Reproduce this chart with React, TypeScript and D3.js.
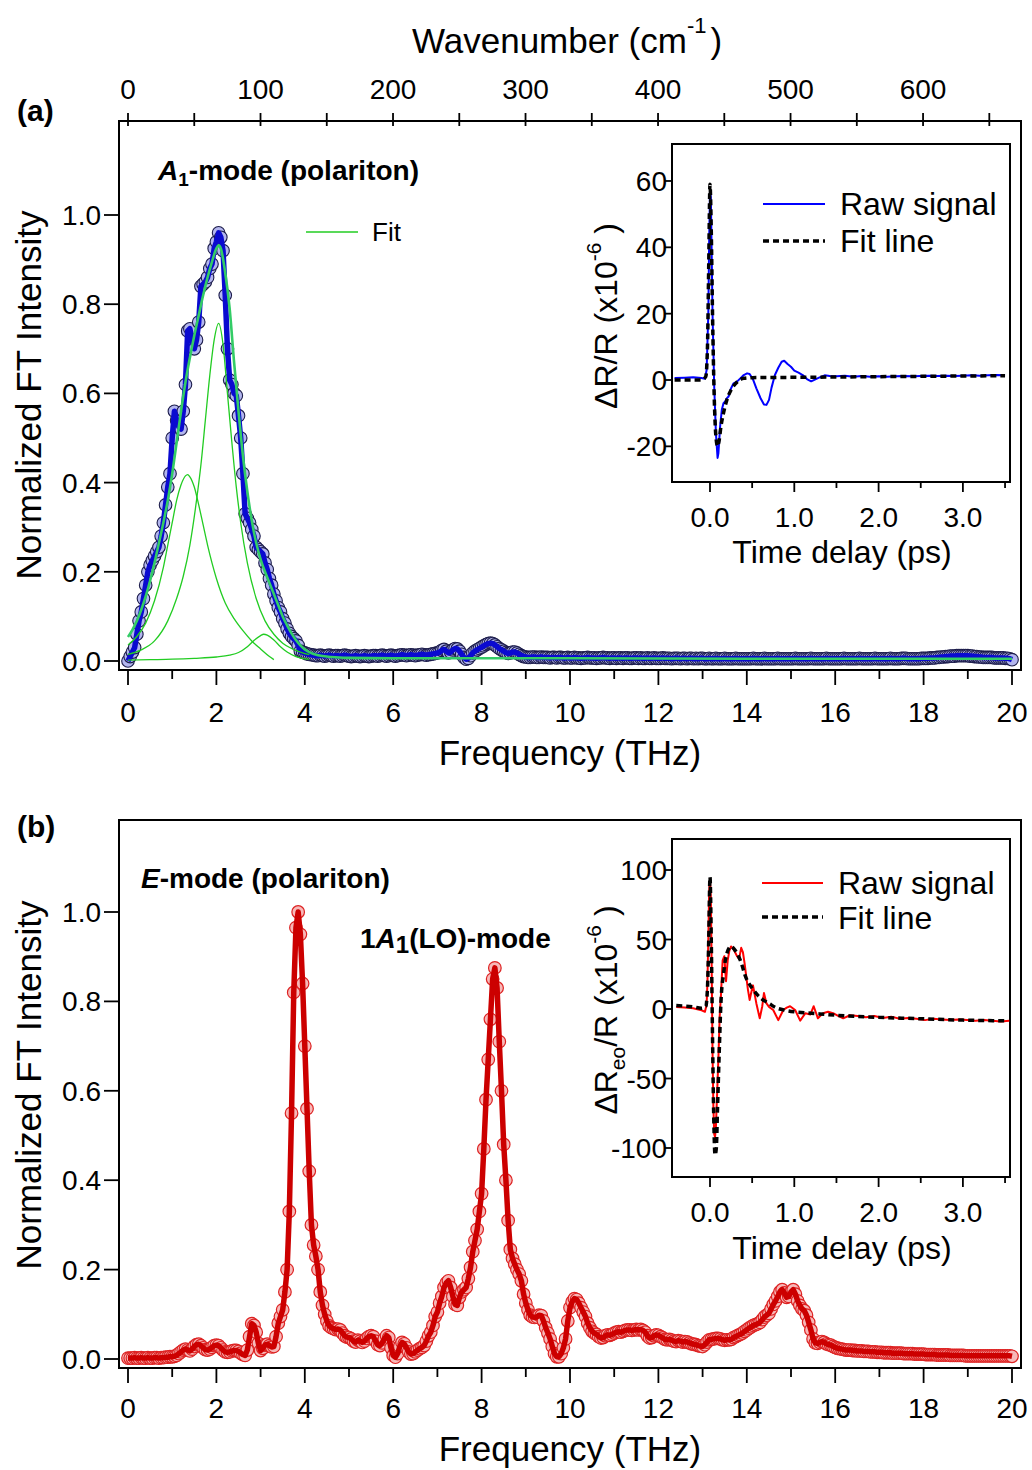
import React from 'react';
import * as d3 from 'd3';

const FONT = "'Liberation Sans', Arial, Helvetica, sans-serif";

// ---------------- DATA ----------------
const FREQ_STEP = 0.05; // THz, spacing of the FT spectra
const THZ_TO_CM = 33.356; // 1 THz in cm^-1

// Panel (a): normalized FT intensity, A1-mode (0 … 20 THz)
const spectrumA: number[] = [
  0.000,0.010,0.020,0.030,0.060,0.090,0.110,0.140,0.170,0.200,0.215,0.225,0.235,0.245,0.255,0.280,0.310,0.350,0.390,0.420,
  0.500,0.560,0.540,0.525,0.520,0.560,0.620,0.740,0.745,0.720,0.700,0.720,0.760,0.840,0.845,0.850,0.860,0.880,0.890,0.925,
  0.940,0.960,0.950,0.920,0.820,0.700,0.630,0.620,0.600,0.595,0.550,0.500,0.420,0.330,0.320,0.310,0.295,0.280,0.255,0.250,
  0.245,0.240,0.220,0.205,0.185,0.170,0.150,0.135,0.120,0.110,0.095,0.085,0.072,0.062,0.055,0.050,0.045,0.035,0.022,0.020,
  0.018,0.016,0.015,0.014,0.013,0.012,0.012,0.013,0.012,0.011,0.012,0.013,0.012,0.011,0.012,0.012,0.011,0.012,0.013,0.012,
  0.011,0.010,0.011,0.012,0.011,0.010,0.011,0.012,0.011,0.010,0.011,0.012,0.012,0.011,0.012,0.013,0.012,0.011,0.012,0.013,
  0.012,0.011,0.012,0.013,0.014,0.013,0.012,0.013,0.014,0.013,0.012,0.013,0.014,0.015,0.014,0.013,0.014,0.015,0.016,0.017,
  0.018,0.020,0.024,0.026,0.022,0.018,0.020,0.025,0.028,0.027,0.022,0.015,0.008,0.004,0.006,0.012,0.018,0.022,0.025,0.028,
  0.031,0.034,0.037,0.039,0.040,0.039,0.036,0.032,0.028,0.025,0.022,0.019,0.017,0.018,0.020,0.020,0.018,0.015,0.012,0.010,
  0.009,0.008,0.008,0.009,0.009,0.008,0.008,0.009,0.008,0.008,0.008,0.007,0.008,0.008,0.007,0.008,0.008,0.007,0.007,0.008,
  0.007,0.007,0.008,0.007,0.007,0.006,0.007,0.007,0.008,0.007,0.007,0.007,0.006,0.007,0.007,0.008,0.007,0.007,0.006,0.007,
  0.007,0.006,0.007,0.007,0.006,0.007,0.007,0.006,0.006,0.007,0.007,0.006,0.007,0.006,0.006,0.007,0.006,0.006,0.007,0.006,
  0.006,0.006,0.007,0.006,0.006,0.006,0.005,0.006,0.006,0.006,0.005,0.006,0.006,0.005,0.006,0.006,0.005,0.006,0.005,0.006,
  0.006,0.005,0.005,0.006,0.005,0.005,0.006,0.005,0.005,0.005,0.006,0.005,0.005,0.005,0.005,0.006,0.005,0.005,0.005,0.005,
  0.005,0.005,0.005,0.006,0.005,0.005,0.005,0.005,0.006,0.005,0.005,0.005,0.005,0.005,0.006,0.005,0.005,0.005,0.005,0.005,
  0.005,0.005,0.006,0.005,0.005,0.005,0.005,0.005,0.005,0.006,0.005,0.005,0.005,0.005,0.005,0.005,0.006,0.005,0.005,0.005,
  0.005,0.005,0.005,0.005,0.006,0.005,0.005,0.005,0.005,0.005,0.005,0.006,0.005,0.005,0.005,0.005,0.005,0.005,0.006,0.005,
  0.005,0.005,0.005,0.005,0.005,0.006,0.005,0.005,0.005,0.005,0.006,0.006,0.006,0.005,0.005,0.005,0.005,0.005,0.005,0.006,
  0.006,0.006,0.006,0.007,0.007,0.007,0.008,0.008,0.009,0.009,0.010,0.010,0.011,0.011,0.011,0.012,0.012,0.012,0.012,0.012,
  0.012,0.011,0.011,0.010,0.010,0.009,0.009,0.008,0.008,0.008,0.008,0.008,0.007,0.007,0.007,0.007,0.007,0.006,0.006,0.005,
  0.003,
];

// Panel (b): normalized FT intensity, E-mode (0 … 20 THz)
const spectrumB: number[] = [
  0.002,0.002,0.002,0.003,0.002,0.002,0.003,0.002,0.002,0.003,0.002,0.002,0.003,0.003,0.002,0.003,0.003,0.004,0.004,0.005,
  0.005,0.006,0.008,0.012,0.016,0.020,0.022,0.020,0.018,0.022,0.028,0.032,0.033,0.030,0.025,0.021,0.020,0.022,0.026,0.030,
  0.031,0.030,0.025,0.020,0.016,0.015,0.016,0.018,0.019,0.019,0.017,0.013,0.010,0.008,0.020,0.050,0.079,0.075,0.060,0.035,
  0.019,0.024,0.031,0.033,0.030,0.027,0.028,0.050,0.080,0.095,0.110,0.150,0.200,0.330,0.550,0.820,0.965,1.000,0.950,0.840,
  0.700,0.560,0.420,0.300,0.255,0.230,0.200,0.150,0.120,0.100,0.085,0.074,0.070,0.068,0.066,0.067,0.065,0.058,0.052,0.049,
  0.048,0.045,0.040,0.038,0.042,0.040,0.037,0.040,0.046,0.050,0.052,0.050,0.040,0.032,0.030,0.036,0.045,0.052,0.048,0.025,
  0.008,0.004,0.012,0.028,0.037,0.034,0.025,0.016,0.011,0.012,0.016,0.020,0.023,0.026,0.030,0.040,0.052,0.060,0.075,0.095,
  0.105,0.125,0.140,0.160,0.170,0.175,0.160,0.140,0.122,0.120,0.138,0.150,0.155,0.160,0.180,0.205,0.240,0.265,0.290,0.330,
  0.370,0.470,0.580,0.670,0.760,0.850,0.875,0.830,0.710,0.600,0.480,0.400,0.310,0.245,0.225,0.212,0.200,0.190,0.175,0.145,
  0.125,0.110,0.098,0.094,0.093,0.094,0.098,0.097,0.085,0.070,0.058,0.045,0.028,0.012,0.005,0.005,0.012,0.025,0.045,0.085,
  0.115,0.128,0.135,0.133,0.125,0.115,0.105,0.095,0.080,0.070,0.062,0.058,0.055,0.050,0.047,0.048,0.052,0.054,0.053,0.055,
  0.058,0.060,0.061,0.060,0.062,0.064,0.065,0.065,0.064,0.065,0.066,0.065,0.066,0.064,0.060,0.052,0.047,0.048,0.052,0.054,
  0.053,0.050,0.047,0.044,0.043,0.044,0.042,0.040,0.039,0.041,0.040,0.038,0.039,0.038,0.036,0.034,0.033,0.032,0.030,0.029,
  0.028,0.032,0.038,0.043,0.044,0.045,0.046,0.046,0.045,0.043,0.042,0.043,0.043,0.044,0.048,0.050,0.053,0.055,0.058,0.062,
  0.065,0.069,0.072,0.075,0.077,0.079,0.082,0.088,0.094,0.098,0.102,0.112,0.122,0.130,0.140,0.150,0.155,0.148,0.138,0.140,
  0.150,0.155,0.145,0.130,0.120,0.112,0.108,0.098,0.082,0.065,0.045,0.036,0.035,0.037,0.039,0.037,0.034,0.032,0.031,0.028,
  0.026,0.024,0.023,0.022,0.021,0.020,0.020,0.020,0.019,0.019,0.018,0.018,0.018,0.017,0.017,0.017,0.016,0.016,0.016,0.015,
  0.015,0.015,0.014,0.014,0.014,0.014,0.013,0.013,0.013,0.013,0.013,0.012,0.012,0.012,0.012,0.012,0.011,0.011,0.011,0.011,
  0.011,0.010,0.010,0.010,0.010,0.010,0.009,0.009,0.009,0.009,0.009,0.009,0.008,0.008,0.008,0.008,0.008,0.008,0.008,0.007,
  0.007,0.007,0.007,0.007,0.007,0.007,0.007,0.007,0.007,0.007,0.007,0.007,0.007,0.007,0.007,0.007,0.007,0.007,0.007,0.007,
  0.006,
];

// Panel (a) fit: total and three components
const fitTotalF = [0,0.1,0.2,0.3,0.4,0.5,0.6,0.7,0.8,0.9,1.0,1.1,1.2,1.3,1.4,1.5,1.6,1.7,1.8,1.9,2.0,2.05,2.1,2.2,2.3,2.4,2.5,2.6,2.7,2.8,2.9,3.0,3.1,3.2,3.3,3.4,3.5,3.6,3.7,3.8,3.9,4.0,4.1,4.3,4.6,5,6,8,10,14,20];
const fitTotalV = [0.054,0.07,0.09,0.115,0.145,0.18,0.22,0.265,0.31,0.36,0.42,0.49,0.56,0.625,0.68,0.73,0.775,0.82,0.86,0.895,0.925,0.932,0.925,0.87,0.79,0.67,0.56,0.46,0.38,0.315,0.265,0.228,0.2,0.175,0.15,0.125,0.1,0.08,0.062,0.047,0.035,0.026,0.02,0.013,0.009,0.007,0.006,0.006,0.006,0.005,0.005];
const comp1F = [0,0.2,0.4,0.6,0.8,0.9,1.0,1.1,1.2,1.3,1.35,1.4,1.5,1.6,1.7,1.8,1.9,2.0,2.2,2.4,2.6,2.8,3.0,3.2,3.3];
const comp1V = [0.036,0.055,0.085,0.135,0.21,0.26,0.31,0.36,0.395,0.415,0.418,0.413,0.39,0.35,0.305,0.26,0.22,0.185,0.13,0.095,0.068,0.045,0.027,0.01,0.003];
const comp2F = [0,0.3,0.6,0.9,1.1,1.25,1.4,1.55,1.65,1.75,1.85,1.95,2.05,2.15,2.25,2.35,2.45,2.55,2.7,2.9,3.1,3.3,3.5,3.7,3.9,4.1];
const comp2V = [0.015,0.025,0.045,0.09,0.14,0.19,0.26,0.36,0.44,0.54,0.64,0.72,0.757,0.71,0.6,0.49,0.39,0.31,0.22,0.14,0.09,0.06,0.04,0.028,0.02,0.014];
const comp3F = [0,0.5,1.0,1.5,2.0,2.3,2.5,2.7,2.85,3.0,3.07,3.15,3.3,3.45,3.6,3.8,4.0,4.1];
const comp3V = [0.002,0.003,0.004,0.006,0.009,0.013,0.019,0.032,0.046,0.057,0.06,0.058,0.047,0.032,0.02,0.01,0.005,0.004];

// Inset (a): ΔR/R (x1e-6) vs time delay (ps)
const insetARawT = [-0.42,-0.3,-0.2,-0.1,-0.06,-0.04,-0.02,-0.01,0.0,0.01,0.02,0.03,0.05,0.07,0.09,0.1,0.12,0.14,0.16,0.18,0.2,0.22,0.25,0.28,0.32,0.36,0.40,0.44,0.47,0.51,0.55,0.6,0.64,0.67,0.7,0.73,0.77,0.81,0.85,0.88,0.92,0.96,1.0,1.05,1.1,1.15,1.2,1.25,1.3,1.36,1.42,1.5,1.6,1.7,1.8,1.9,2.0,2.1,2.2,2.3,2.4,2.5,2.6,2.7,2.8,2.9,3.0,3.1,3.2,3.3,3.4,3.5];
const insetARawV = [0.6,0.7,0.8,0.6,0.4,3,20,42,57,55,38,20,-2,-16,-23.5,-22,-14,-9,-7,-6.5,-5.5,-5,-2.5,-1,-0.5,0.5,1.5,2,1.8,0.2,-2.5,-5.5,-7.4,-7.5,-6,-2.3,1.5,3.7,5.5,5.8,4.8,4,2.8,2.2,1.5,0.3,-0.4,0.2,0.8,1.4,1.2,1.1,1.3,1.0,1.2,1.0,1.1,1.0,1.1,1.2,1.1,1.2,1.3,1.2,1.3,1.2,1.3,1.4,1.3,1.4,1.5,1.4];
const insetAFitT = [-0.42,-0.1,-0.05,-0.03,-0.015,0.0,0.015,0.03,0.05,0.07,0.09,0.11,0.13,0.16,0.2,0.25,0.3,0.35,0.4,0.5,1.0,1.5,2.0,2.5,3.0,3.5];
const insetAFitV = [0,0,1,10,35,59,45,20,-5,-17,-20,-18,-14,-10,-6,-3,-1.2,0,0.5,0.7,0.8,0.9,1.0,1.1,1.2,1.3];

// Inset (b): ΔR_eo/R (x1e-6) vs time delay (ps)
const insetBRawT = [-0.4,-0.3,-0.2,-0.1,-0.06,-0.04,-0.03,-0.02,-0.01,0.0,0.01,0.02,0.03,0.04,0.05,0.06,0.07,0.085,0.1,0.115,0.13,0.15,0.17,0.19,0.21,0.23,0.25,0.28,0.32,0.345,0.37,0.39,0.41,0.45,0.47,0.49,0.51,0.55,0.59,0.62,0.64,0.67,0.7,0.75,0.81,0.87,0.91,0.95,1.01,1.07,1.13,1.19,1.23,1.28,1.34,1.4,1.46,1.52,1.58,1.66,1.75,1.85,1.95,2.05,2.15,2.25,2.35,2.45,2.55,2.65,2.75,2.85,2.95,3.05,3.15,3.25,3.35,3.45,3.55];
const insetBRawV = [1.5,1,0.5,-1,-2,3,20,50,85,93,80,30,-30,-70,-90,-92,-85,-60,-35,-5,10,35,38,20,35,42,45,43,38,36,44,41,33,14,6.5,12,17,4,-6.7,2,11.5,4,1.5,-0.7,-8,-0.7,1,2,-0.7,-8.4,-3.1,-4,2,-6.7,-3,-2,-3,-5,-6.7,-4.5,-5,-6,-5,-6.5,-5.5,-7,-6.5,-7,-8,-7,-7.5,-8,-7.5,-8,-8.5,-8,-8.5,-9,-8.5];
const insetBFitT = [-0.4,-0.2,-0.1,-0.05,-0.03,-0.015,0.0,0.015,0.03,0.045,0.06,0.075,0.09,0.11,0.13,0.16,0.2,0.25,0.3,0.36,0.43,0.5,0.55,0.62,0.7,0.78,0.9,1.0,1.2,1.5,2.0,2.5,3.0,3.5];
const insetBFitV = [2.5,1.5,0.5,2,15,50,95,50,-20,-80,-105,-100,-70,-30,5,25,40,45,42,35,22,15,11,7,4,1,-1,-2,-3,-4.5,-6,-7,-8,-8.5];

// Ticks
const freqTicks = [0, 2, 4, 6, 8, 10, 12, 14, 16, 18, 20];
const freqMinor = [1, 3, 5, 7, 9, 11, 13, 15, 17, 19];
const intensityTicks = [0, 0.2, 0.4, 0.6, 0.8, 1.0];
const wavenumberTicks = [0, 100, 200, 300, 400, 500, 600];
const wavenumberMinor = [50, 150, 250, 350, 450, 550, 650];
const timeTicks = [0, 1, 2, 3];
const timeMinor = [0.5, 1.5, 2.5, 3.5];
const insetATicks = [-20, 0, 20, 40, 60];
const insetBTicks = [-100, -50, 0, 50, 100];

// ---------------- LAYOUT ----------------
const W = 1032, H = 1470;
const FRAME_L = 119, FRAME_R = 1021;
const PA = { top: 121, bottom: 670, y0: 661, y1: 215 };
const PB = { top: 820, bottom: 1368, y0: 1359, y1: 912 };
const INSET_L = 672, INSET_R = 1010;
const IA = { top: 144, bottom: 482, zero: 380, pxPerUnit: 3.317 };
const IB = { top: 839, bottom: 1177, zero: 1009, pxPerUnit: 1.39 };

const xF = d3.scaleLinear().domain([0, 20]).range([128, 1012]);
const xWn = d3.scaleLinear().domain([0, 20 * THZ_TO_CM]).range([128, 1012]);
const yA = d3.scaleLinear().domain([0, 1]).range([PA.y0, PA.y1]);
const yB = d3.scaleLinear().domain([0, 1]).range([PB.y0, PB.y1]);
const xT = d3.scaleLinear().domain([0, 1]).range([710, 794.3]);
const yIA = d3.scaleLinear().domain([0, 1]).range([IA.zero, IA.zero - IA.pxPerUnit]);
const yIB = d3.scaleLinear().domain([0, 1]).range([IB.zero, IB.zero - IB.pxPerUnit]);

type P = [number, number];
const zip = (a: number[], b: number[]): P[] => a.map((v, i) => [v, b[i]] as P);
const spec = (arr: number[]): P[] => arr.map((v, i) => [i * FREQ_STEP, v] as P);

const fmt1 = (v: number) => v.toFixed(1);

function App() {
  const dataA = spec(spectrumA);
  const dataB = spec(spectrumB);

  const lineA = d3.line<P>().x(d => xF(d[0])).y(d => yA(d[1]));
  const lineB = d3.line<P>().x(d => xF(d[0])).y(d => yB(d[1]));
  const smoothA = d3.line<P>().x(d => xF(d[0])).y(d => yA(d[1])).curve(d3.curveMonotoneX);
  const lineIA = d3.line<P>().x(d => xT(d[0])).y(d => yIA(d[1]));
  const smoothIA = d3.line<P>().x(d => xT(d[0])).y(d => yIA(d[1])).curve(d3.curveMonotoneX);
  const lineIB = d3.line<P>().x(d => xT(d[0])).y(d => yIB(d[1]));
  const smoothIB = d3.line<P>().x(d => xT(d[0])).y(d => yIB(d[1])).curve(d3.curveMonotoneX);

  const tickFs = 28;
  const titleFs = 35;
  const insetFs = 32;

  const bottomAxis = (frameBottom: number, labelY: number) => (
    <g>
      {freqTicks.map(t => (
        <g key={'M' + t}>
          <line x1={xF(t)} x2={xF(t)} y1={frameBottom} y2={frameBottom + 15} stroke="#000" strokeWidth={1.8} />
          <text x={xF(t)} y={labelY} textAnchor="middle" fontSize={tickFs} fontFamily={FONT}>{t}</text>
        </g>
      ))}
      {freqMinor.map(t => (
        <line key={'m' + t} x1={xF(t)} x2={xF(t)} y1={frameBottom} y2={frameBottom + 9} stroke="#000" strokeWidth={1.8} />
      ))}
    </g>
  );

  const leftAxis = (ys: d3.ScaleLinear<number, number>) => (
    <g>
      {intensityTicks.map(t => (
        <g key={t}>
          <line x1={FRAME_L - 15} x2={FRAME_L} y1={ys(t)} y2={ys(t)} stroke="#000" strokeWidth={1.8} />
          <text x={101} y={ys(t) + 10} textAnchor="end" fontSize={tickFs} fontFamily={FONT}>{fmt1(t)}</text>
        </g>
      ))}
    </g>
  );

  const insetAxes = (ys: d3.ScaleLinear<number, number>, ticks: number[], top: number, bottom: number, labelY: number) => (
    <g>
      <rect x={INSET_L} y={top} width={INSET_R - INSET_L} height={bottom - top} fill="#fff" stroke="#000" strokeWidth={2} />
      {ticks.map(t => (
        <g key={'y' + t}>
          <line x1={INSET_L - 8} x2={INSET_L} y1={ys(t)} y2={ys(t)} stroke="#000" strokeWidth={1.8} />
          <text x={INSET_L - 5} y={ys(t) + 10} textAnchor="end" fontSize={tickFs} fontFamily={FONT}>{t}</text>
        </g>
      ))}
      {timeTicks.map(t => (
        <g key={'x' + t}>
          <line x1={xT(t)} x2={xT(t)} y1={bottom} y2={bottom + 10} stroke="#000" strokeWidth={1.8} />
          <text x={xT(t)} y={labelY} textAnchor="middle" fontSize={tickFs} fontFamily={FONT}>{fmt1(t)}</text>
        </g>
      ))}
      {timeMinor.map(t => (
        <line key={'xm' + t} x1={xT(t)} x2={xT(t)} y1={bottom} y2={bottom + 6} stroke="#000" strokeWidth={1.8} />
      ))}
    </g>
  );

  return (
    <svg width={W} height={H} viewBox={`0 0 ${W} ${H}`} style={{ position: 'absolute', left: 0, top: 0, background: '#fff' }} fontFamily={FONT}>
      <rect x={0} y={0} width={W} height={H} fill="#fff" />

      {/* ================= PANEL (a) ================= */}
      <text x={17} y={121} fontSize={30} fontWeight="bold">(a)</text>
      {/* top wavenumber axis */}
      <text x={412} y={53} fontSize={titleFs}>
        Wavenumber (cm<tspan dy={-20} fontSize={22}>-1</tspan><tspan dy={20} dx={4}>)</tspan>
      </text>
      {wavenumberTicks.map(t => (
        <g key={'wn' + t}>
          <line x1={xWn(t)} x2={xWn(t)} y1={PA.top - 8} y2={PA.top + 5} stroke="#000" strokeWidth={1.8} />
          <text x={xWn(t)} y={99} textAnchor="middle" fontSize={tickFs}>{t}</text>
        </g>
      ))}
      {wavenumberMinor.map(t => (
        <line key={'wnm' + t} x1={xWn(t)} x2={xWn(t)} y1={PA.top - 8} y2={PA.top + 5} stroke="#000" strokeWidth={1.8} />
      ))}
      <rect x={FRAME_L} y={PA.top} width={FRAME_R - FRAME_L} height={PA.bottom - PA.top} fill="none" stroke="#000" strokeWidth={2} />
      {bottomAxis(PA.bottom, 722)}
      {leftAxis(yA)}
      <text x={570} y={765} textAnchor="middle" fontSize={titleFs}>Frequency (THz)</text>
      <text transform={`translate(41,395) rotate(-90)`} textAnchor="middle" fontSize={titleFs}>Normalized FT Intensity</text>

      {/* data (a) */}
      <g>
        {dataA.map((d, i) => (
          <circle key={i} cx={xF(d[0])} cy={yA(d[1])} r={6.3} fill="#b3b6ee" stroke="#1c1c4a" strokeWidth={1.1} />
        ))}
        <path d={lineA(dataA) || ''} fill="none" stroke="#0a0ad0" strokeWidth={5.5} strokeLinejoin="round" />
        <path d={smoothA(zip(comp1F, comp1V)) || ''} fill="none" stroke="#22cc22" strokeWidth={1.3} />
        <path d={smoothA(zip(comp2F, comp2V)) || ''} fill="none" stroke="#22cc22" strokeWidth={1.3} />
        <path d={smoothA(zip(comp3F, comp3V)) || ''} fill="none" stroke="#22cc22" strokeWidth={1.3} />
        <path d={smoothA(zip(fitTotalF, fitTotalV)) || ''} fill="none" stroke="#33cc66" strokeWidth={2.6} />
      </g>

      <text x={158} y={180} fontSize={28} fontWeight="bold">
        <tspan fontStyle="italic">A</tspan><tspan dy={6} fontSize={19}>1</tspan><tspan dy={-6}>-mode (polariton)</tspan>
      </text>
      <line x1={306} x2={358} y1={232} y2={232} stroke="#22cc22" strokeWidth={1.5} />
      <text x={372} y={241} fontSize={26}>Fit</text>

      {/* inset (a) */}
      {insetAxes(yIA, insetATicks, IA.top, IA.bottom, 527)}
      <path d={lineIA(zip(insetARawT, insetARawV)) || ''} fill="none" stroke="#0000ff" strokeWidth={2} strokeLinejoin="round" />
      <path d={smoothIA(zip(insetAFitT, insetAFitV)) || ''} fill="none" stroke="#000" strokeWidth={3.5} strokeDasharray="6,4" />
      <line x1={763} x2={825} y1={204} y2={204} stroke="#0000ff" strokeWidth={2} />
      <text x={840} y={215} fontSize={insetFs}>Raw signal</text>
      <line x1={763} x2={825} y1={241} y2={241} stroke="#000" strokeWidth={3.5} strokeDasharray="6,4" />
      <text x={840} y={252} fontSize={insetFs}>Fit line</text>
      <text x={842} y={563} textAnchor="middle" fontSize={insetFs}>Time delay (ps)</text>
      <text transform={`translate(617,316) rotate(-90)`} textAnchor="middle" fontSize={insetFs}>
        ΔR/R (x10<tspan dy={-16} fontSize={21}>-6</tspan><tspan dy={16}> )</tspan>
      </text>

      {/* ================= PANEL (b) ================= */}
      <text x={17} y={837} fontSize={30} fontWeight="bold">(b)</text>
      <rect x={FRAME_L} y={PB.top} width={FRAME_R - FRAME_L} height={PB.bottom - PB.top} fill="none" stroke="#000" strokeWidth={2} />
      {bottomAxis(PB.bottom, 1418)}
      {leftAxis(yB)}
      <text x={570} y={1461} textAnchor="middle" fontSize={titleFs}>Frequency (THz)</text>
      <text transform={`translate(41,1085) rotate(-90)`} textAnchor="middle" fontSize={titleFs}>Normalized FT Intensity</text>

      <g>
        {dataB.map((d, i) => (
          <circle key={i} cx={xF(d[0])} cy={yB(d[1])} r={6.3} fill="#f7b8b8" stroke="#dd2222" strokeWidth={1.2} />
        ))}
        <path d={lineB(dataB) || ''} fill="none" stroke="#cc0000" strokeWidth={5.5} strokeLinejoin="round" />
      </g>

      <text x={141} y={888} fontSize={28} fontWeight="bold">
        <tspan fontStyle="italic">E</tspan>-mode (polariton)
      </text>
      <text x={360} y={948} fontSize={28} fontWeight="bold">
        1<tspan fontStyle="italic">A</tspan><tspan dy={5} fontSize={24}>1</tspan><tspan dy={-5}>(LO)-mode</tspan>
      </text>

      {/* inset (b) */}
      {insetAxes(yIB, insetBTicks, IB.top, IB.bottom, 1222)}
      <path d={lineIB(zip(insetBRawT, insetBRawV)) || ''} fill="none" stroke="#ff0000" strokeWidth={2} strokeLinejoin="round" />
      <path d={smoothIB(zip(insetBFitT, insetBFitV)) || ''} fill="none" stroke="#000" strokeWidth={3.5} strokeDasharray="6,4" />
      <line x1={762} x2={823} y1={883} y2={883} stroke="#ff0000" strokeWidth={2} />
      <text x={838} y={894} fontSize={insetFs}>Raw signal</text>
      <line x1={762} x2={823} y1={917} y2={917} stroke="#000" strokeWidth={3.5} strokeDasharray="6,4" />
      <text x={838} y={929} fontSize={insetFs}>Fit line</text>
      <text x={842} y={1259} textAnchor="middle" fontSize={insetFs}>Time delay (ps)</text>
      <text transform={`translate(617,1010) rotate(-90)`} textAnchor="middle" fontSize={insetFs}>
        ΔR<tspan dy={8} fontSize={21}>eo</tspan><tspan dy={-8}>/R (x10</tspan><tspan dy={-16} fontSize={21}>-6</tspan><tspan dy={16}> )</tspan>
      </text>
    </svg>
  );
}

export default App;
